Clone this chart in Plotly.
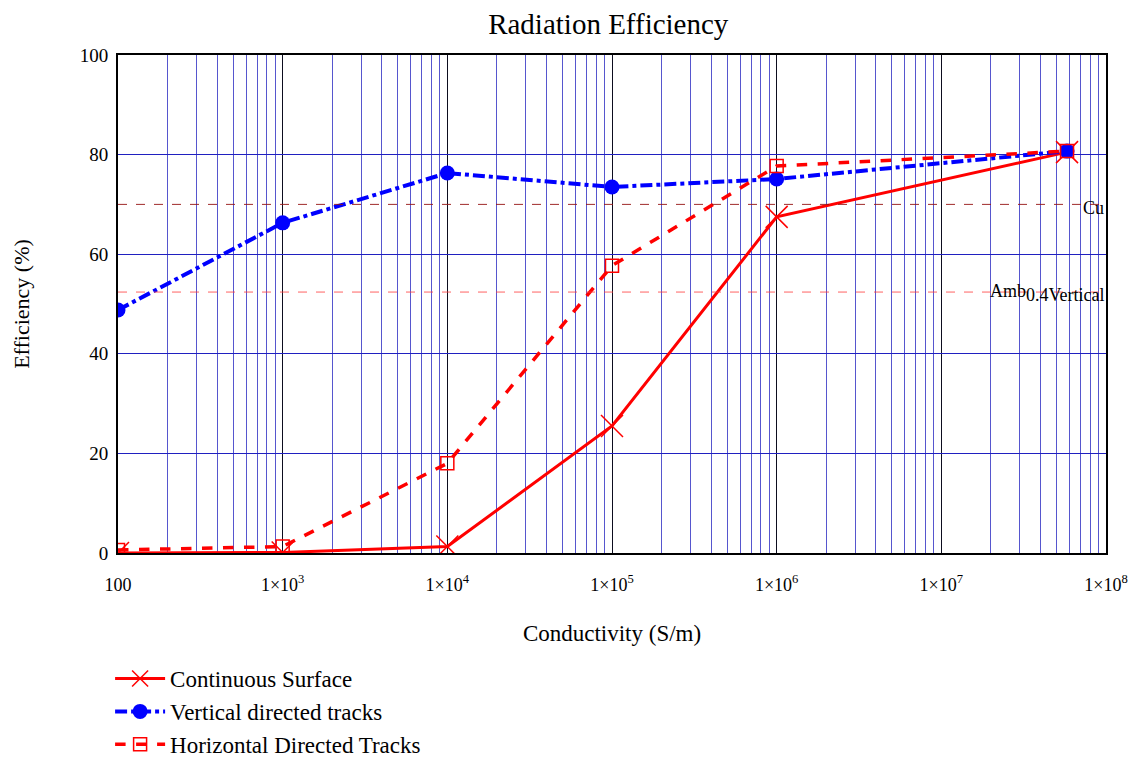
import plotly.graph_objects as go

# ---- data ----
conductivity = [1e2, 1e3, 1e4, 1e5, 1e6, 5.8e7]
continuous_surface = [0.0, 0.1, 1.3, 25.5, 67.5, 80.5]
vertical_tracks = [48.8, 66.3, 76.3, 73.5, 75.1, 80.7]
horizontal_tracks = [0.6, 1.3, 18.0, 57.7, 77.7, 80.7]

ref_values = [70.0, 52.4]
ref_labels = ["Cu", "Amb<sub><span style=\"font-size:18px\">0.4Vertical</span></sub>"]

x_tickvals = [1e2, 1e3, 1e4, 1e5, 1e6, 1e7, 1e8]
x_ticktext = ["100", "1×10<sup>3</sup>", "1×10<sup>4</sup>", "1×10<sup>5</sup>",
              "1×10<sup>6</sup>", "1×10<sup>7</sup>", "1×10<sup>8</sup>"]
y_tickvals = [0, 20, 40, 60, 80, 100]

FONT = "Liberation Serif, Times New Roman, serif"

fig = go.Figure()

fig.add_trace(go.Scatter(
    x=conductivity, y=continuous_surface, name="Continuous Surface",
    mode="lines+markers",
    line=dict(color="#ff0000", width=3, dash="solid"),
    marker=dict(symbol="x-thin", size=22, color="#ff0000",
                line=dict(color="#ff0000", width=1.5)),
))
fig.add_trace(go.Scatter(
    x=conductivity, y=vertical_tracks, name="Vertical directed tracks",
    mode="lines+markers",
    line=dict(color="#0000ff", width=4, dash="dashdot"),
    marker=dict(symbol="circle", size=15, color="#0000ff"),
))
fig.add_trace(go.Scatter(
    x=conductivity, y=horizontal_tracks, name="Horizontal Directed Tracks",
    mode="lines+markers",
    line=dict(color="#ff0000", width=3.5, dash="dash"),
    marker=dict(symbol="square-open", size=13, color="#ff0000",
                line=dict(color="#ff0000", width=1.5)),
))

ref_colors = ["rgba(150,20,20,0.9)", "rgba(255,60,60,0.8)"]
ref_shift = [4, 1]
for val, lab, col, sh in zip(ref_values, ref_labels, ref_colors, ref_shift):
    fig.add_shape(type="line", xref="paper", x0=0, x1=1, yref="y", y0=val, y1=val,
                  line=dict(color=col, width=1, dash="dash"), layer="above")
    fig.add_annotation(xref="paper", x=1.0, yref="y", y=val, text=lab,
                       showarrow=False, xanchor="right", yanchor="middle",
                       font=dict(family=FONT, size=18, color="black"),
                       yshift=-sh, xshift=0)

fig.update_layout(
    width=1139, height=760,
    paper_bgcolor="white", plot_bgcolor="white",
    margin=dict(l=107, r=41, t=47, b=215),
    font=dict(family=FONT, size=18, color="black"),
    title=dict(text="Radiation Efficiency", x=0.527, xanchor="center",
               y=0.979, yanchor="middle", font=dict(family=FONT, size=29)),
    showlegend=True,
    legend=dict(x=-0.008, xanchor="left", yref="container", y=0.146, yanchor="top",
                font=dict(family=FONT, size=23), bgcolor="rgba(0,0,0,0)",
                itemwidth=50, tracegroupgap=0),
)

fig.update_xaxes(
    type="log", range=[2, 8],
    tickvals=x_tickvals, ticktext=x_ticktext,
    ticks="", ticklabelstandoff=14,
    tickfont=dict(family=FONT, size=18),
    showgrid=True, gridcolor="rgba(0,0,0,0.85)", gridwidth=1,
    minor=dict(dtick="D1", showgrid=True, gridcolor="rgba(30,30,190,0.75)", gridwidth=1),
    showline=True, linecolor="black", linewidth=2, mirror=True,
    zeroline=False,
    title=dict(text="Conductivity (S/m)", font=dict(family=FONT, size=23), standoff=31),
)
fig.update_yaxes(
    range=[0, 100], tickvals=y_tickvals,
    ticks="", ticklabelstandoff=4,
    tickfont=dict(family=FONT, size=19),
    showgrid=True, gridcolor="#2020c0", gridwidth=1,
    showline=True, linecolor="black", linewidth=2, mirror=True,
    zeroline=False,
    title=dict(text="Efficiency (%)", font=dict(family=FONT, size=22), standoff=44),
)

fig.write_html("out.html")
